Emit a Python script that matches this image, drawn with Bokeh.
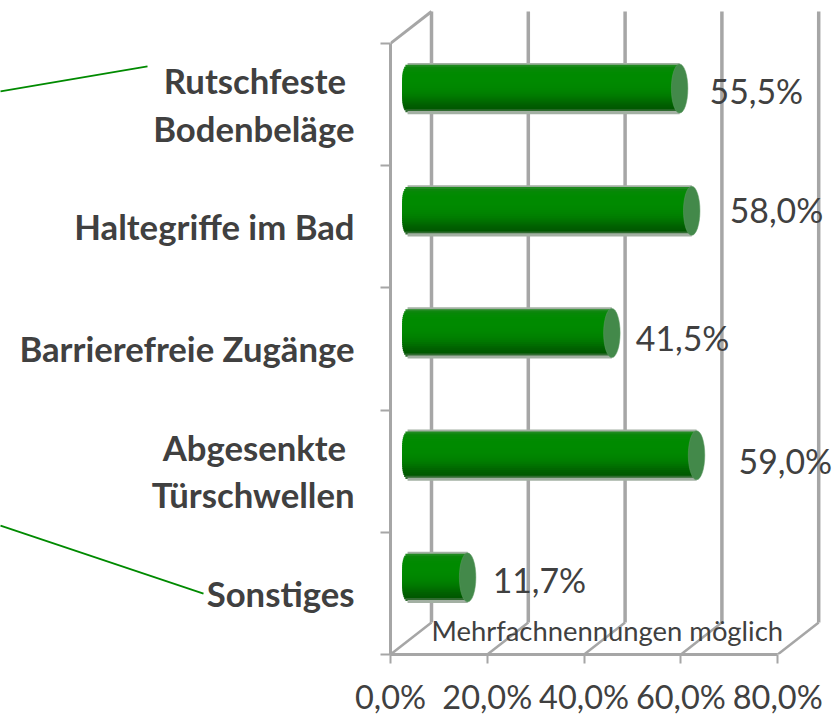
from bokeh.plotting import figure
from bokeh.embed import file_html
from bokeh.resources import INLINE
from bokeh.models import FixedTicker, Range1d
from bokeh.core.properties import value
import numpy as np

categories = ["Sonstiges", "Abgesenkte \nTürschwellen", "Barrierefreie Zugänge", "Haltegriffe im Bad", "Rutschfeste \nBodenbeläge"]
values = [11.7, 59.0, 41.5, 58.0, 55.5]
value_labels = ["11,7%", "59,0%", "41,5%", "58,0%", "55,5%"]
x_ticks = [0, 20, 40, 60, 80]
x_tick_labels = ["0,0%", "20,0%", "40,0%", "60,0%", "80,0%"]
note = "Mehrfachnennungen möglich"

W, H = 834, 718
LEFT, BOTTOM = 390, 63
PX_X = 4.84            # px per percent
PX_Y = 122.4           # px per category slot
DX = 41 / PX_X         # 3D depth
DY = 32 / PX_Y
GRAY = "#a6a6a6"
TXT = "#404040"
FONT = "Lato"

p = figure(width=W, height=H, output_backend="svg", toolbar_location=None,
           x_range=Range1d(0, (W - LEFT) / PX_X),
           y_range=Range1d(-0.5, -0.5 + (H - BOTTOM) / PX_Y),
           min_border_left=LEFT, min_border_bottom=BOTTOM, min_border_top=0, min_border_right=0,
           outline_line_color=None, background_fill_color=None, border_fill_color=None)
p.styles = {"position": "absolute", "left": "0", "top": "0"}
p.grid.visible = False

ax = p.xaxis[0]
ax.ticker = FixedTicker(ticks=x_ticks)
ax.major_label_overrides = dict(zip(x_ticks, x_tick_labels))
ax.bounds = (0, 80)
ax.axis_line_color = GRAY; ax.axis_line_width = 3
ax.major_tick_line_color = GRAY; ax.major_tick_line_width = 2
ax.major_tick_out = 9; ax.major_tick_in = 0
ax.major_label_standoff = 13
ax.major_label_text_font = FONT; ax.major_label_text_font_size = "32.5px"
ax.major_label_text_color = TXT; ax.major_label_orientation = "horizontal"

ay = p.yaxis[0]
ypos = list(range(len(categories)))
ay.ticker = FixedTicker(ticks=ypos, minor_ticks=[i - 0.5 for i in range(len(categories) + 1)])
ay.major_label_overrides = dict(zip(ypos, categories))
ay.bounds = (-0.5, len(categories) - 0.5)
ay.axis_line_color = GRAY; ay.axis_line_width = 3
ay.major_tick_line_color = None; ay.major_tick_out = 0; ay.major_tick_in = 0
ay.minor_tick_line_color = GRAY; ay.minor_tick_line_width = 2
ay.minor_tick_out = 10; ay.minor_tick_in = 0
ay.major_label_standoff = 26
ay.major_label_text_font = FONT; ay.major_label_text_font_style = "bold"
ay.major_label_text_font_size = "34.7px"; ay.major_label_text_color = TXT
ay.major_label_text_line_height = 1.15

# 3D walls
y0 = -0.5; y1 = len(categories) - 0.5
tx = np.array(x_ticks, float)
p.segment(tx, y0, tx + DX, y0 + DY, line_color=GRAY, line_width=2.5)
p.segment(tx + DX, y0 + DY, tx + DX, y1 + DY, line_color=GRAY, line_width=3.5)
p.segment([0], [y1], [DX], [y1 + DY], line_color=GRAY, line_width=3)

# cylinders
N = 26
a = 9.0 / PX_X
half = 0.205
shade = ["#a3b0a3", "#1f8a1f", "#0b860b", "#068806", "#038a03", "#018a01", "#008a00", "#008a00", "#008a00", "#008a00",
         "#008900", "#008800", "#008700", "#008500", "#008300", "#008000", "#007c00", "#007800", "#007200", "#006c00",
         "#006600", "#006000", "#005c00", "#005800", "#2f6b2f", "#a3b0a3"]
edges = np.linspace(-half, half, N + 1)
mids = (edges[:-1] + edges[1:]) / 2
step = edges[1] - edges[0]
curve = a * np.sqrt(np.clip(1 - (mids / half) ** 4, 0, 1))
for i, v in enumerate(values):
    yc = i + DY / 2
    xc = DX / 2
    p.hbar(y=yc - mids, height=step * 1.6,
           left=xc - curve, right=v + xc,
           fill_color=shade, line_color=None)
    p.ellipse(x=[v + xc], y=[yc], width=16.5 / PX_X, height=2 * half * 0.98,
              fill_color="#43894a", line_color="#5f9a65", line_width=0.5)

# value labels
lab_off = [17, 34, 16, 30, 22]
lab_dy = [3, 6, 5, -1, 2]
vals = np.array(values)
p.text(x=vals + DX / 2 + 8 / PX_X, y=np.array(ypos) + DY / 2, text=value_labels,
       x_offset=lab_off, y_offset=lab_dy,
       text_font=value(FONT), text_font_size="33.8px", text_color=TXT,
       text_align="left", text_baseline="middle")

p.text(x=[DX], y=[y0 + DY / 1.4], text=[note], text_font=value(FONT), text_font_size="27.4px",
       text_color=TXT, text_align="left", text_baseline="middle", y_offset=[-1])

# leader lines
lx = lambda px: (px - LEFT) / PX_X
ly = lambda py: -0.5 + (H - BOTTOM - py) / PX_Y
p.segment([lx(0), lx(0)], [ly(91), ly(526)], [lx(147), lx(203)], [ly(66), ly(594)],
          line_color="#008a00", line_width=1.8, level="annotation")

open("out.html", "w").write(file_html(p, INLINE))
